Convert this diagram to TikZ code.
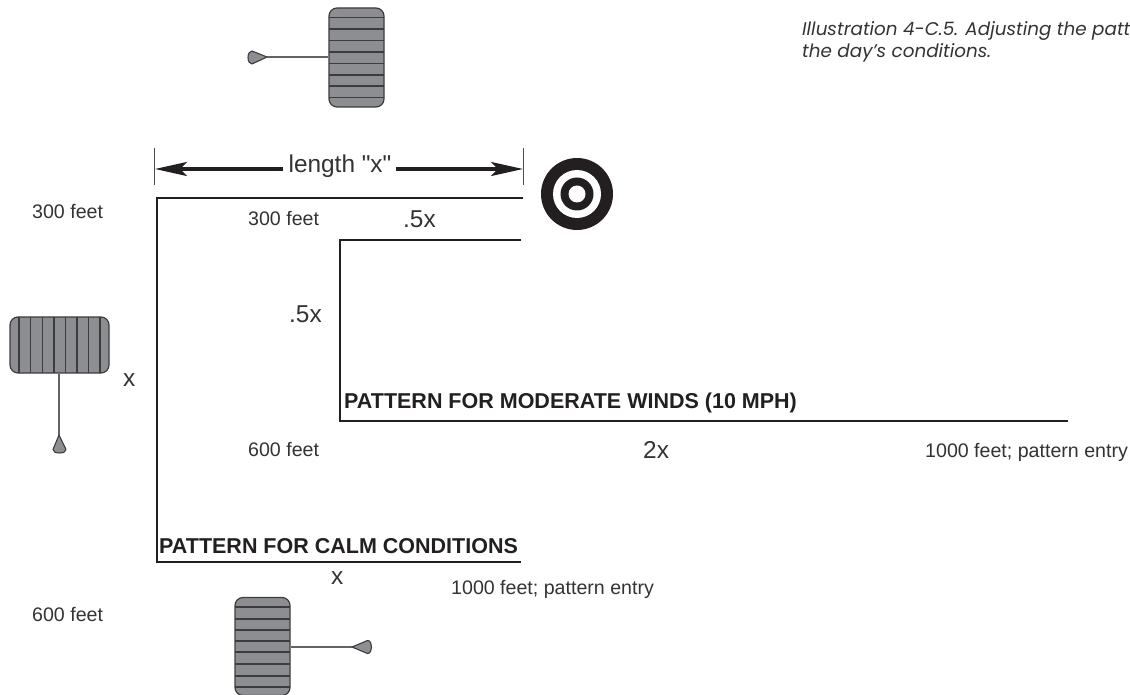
\documentclass[tikz,border=0pt]{standalone}
\usepackage{fontspec}
\setmainfont{Liberation Sans}
\newfontfamily\plainsans{Liberation Sans}
\newfontfamily\capfont{Poppins}
\usetikzlibrary{arrows.meta}
\definecolor{tirefill}{HTML}{8D8E91}
\definecolor{tireline}{HTML}{3C3C3E}
\definecolor{ink}{HTML}{231F20}
\definecolor{txt}{HTML}{333333}
\tikzset{
  tirebox/.style={draw=tireline,line width=1.2pt,fill=tirefill,rounded corners=8pt,inner sep=0pt},
  tread/.style={draw=tireline,line width=1.3pt},
  stemline/.style={draw=tireline!80,line width=1.5pt},
  headshape/.style={fill=tirefill,draw=tireline,line width=1.1pt,line join=round},
  pattern line/.style={draw=ink,line width=2pt},
  dimline/.style={draw=ink,line width=3.4pt,-{Stealth[length=32pt,width=14pt,inset=7pt]}},
  barline/.style={draw=ink!80,line width=1pt},
  small/.style={inner sep=0pt,text=txt,font=\fontsize{19.6}{23}\selectfont},
  big/.style={inner sep=0pt,text=txt,font=\plainsans\fontsize{24.4}{28}\selectfont},
  heading/.style={inner sep=0pt,text=ink,anchor=west,font=\fontsize{21.5}{26}\selectfont\bfseries},
  caption/.style={inner sep=0pt,text=txt,anchor=west,font=\capfont\itshape\fontsize{18.35}{22}\selectfont},
  ringnode/.style={circle,inner sep=0pt,draw=none},
}
\begin{document}
\begin{tikzpicture}[x=1pt,y=-1pt]
\useasboundingbox (0,0) rectangle (1130,695);
% top tyre
\node[tirebox,minimum width=55pt,minimum height=99pt] (t1) at (356.5,57.5) {};
\foreach \yy in {17.3,29,40.3,52,63.3,75,86,97.3} \draw[tread] (329,\yy) -- (384,\yy);
\coordinate (h1) at (267,57);
\draw[stemline] (t1.west |- h1) -- (h1);
\draw[headshape] (h1) -- (252,51) .. controls (249.5,51) and (248,54) .. (248,57.5) .. controls (248,61) and (249.5,64) .. (252,64) -- cycle;
% left tyre
\node[tirebox,minimum width=99pt,minimum height=56pt] (t2) at (59.5,345) {};
\foreach \xx in {19,30.7,42.3,54,65.7,77,88.3,100} \draw[tread] (\xx,317) -- (\xx,373);
\coordinate (h2) at (59,435);
\draw[stemline] (t2.south -| h2) -- (h2);
\draw[headshape] (h2) -- (53,449.5) .. controls (53,452) and (56,453) .. (59.5,453) .. controls (63,453) and (66,452) .. (66,449.5) -- cycle;
% bottom tyre
\node[tirebox,minimum width=55pt,minimum height=98pt] (t3) at (262.5,646.5) {};
\foreach \yy in {607,619,630,641,652,664,676,687} \draw[tread] (235,\yy) -- (290,\yy);
\coordinate (h3) at (352,647);
\draw[stemline] (t3.east |- h3) -- (h3);
\draw[headshape] (h3) -- (367.5,640.5) .. controls (370.5,640.5) and (371.5,644) .. (371.5,647) .. controls (371.5,650) and (370.5,653.5) .. (367.5,653.5) -- cycle;
% target
\node[ringnode,fill=ink,minimum size=72pt] (target) at (577,194) {};
\node[ringnode,fill=white,minimum size=48pt] (ring1) at (target) {};
\node[ringnode,fill=ink,minimum size=33pt] (ring2) at (target) {};
\node[ringnode,fill=white,minimum size=17pt] (ring3) at (target) {};
% dimension
\coordinate (b1t) at (154,148); \coordinate (b1b) at (154,185);
\coordinate (b2t) at (523.5,148); \coordinate (b2b) at (523.5,185);
\draw[barline] (b1t) -- (b1b);
\draw[barline] (b2t) -- (b2b);
\node[big] (len) at (340,166) {length "x"};
\coordinate (la) at (155,169); \coordinate (ra) at (523,169);
\coordinate (ls) at (283,169); \coordinate (rs) at (396,169);
\draw[dimline] (ls) -- (la);
\draw[dimline] (rs) -- (ra);
% patterns
\coordinate (c1) at (523,198); \coordinate (c2) at (156.5,198);
\coordinate (c3) at (156.5,562); \coordinate (c4) at (521,562);
\draw[pattern line] (c1) -- (c2) -- (c3) -- (c4);
\coordinate (m1) at (521,240); \coordinate (m2) at (339.5,240);
\coordinate (m3) at (339.5,421); \coordinate (m4) at (1068,421);
\draw[pattern line] (m1) -- (m2) -- (m3) -- (m4);
% labels
\node[heading] (calm) at (159,546.5) {PATTERN FOR CALM CONDITIONS};
\node[heading] (mod) at (344,403) {PATTERN FOR MODERATE WINDS (10 MPH)};
\node[small,anchor=west] (a) at (32,212) {300 feet};
\node[small,anchor=west] (b) at (248,219) {300 feet};
\node[small,anchor=west] (c) at (248,450) {600 feet};
\node[small,anchor=west] (d) at (32,614) {600 feet};
\node[small,anchor=west] (e) at (925,452) {1000 feet; pattern entry};
\node[small,anchor=west] (f) at (451,589) {1000 feet; pattern entry};
\node[big,anchor=west] (g) at (403,219) {.5x};
\node[big,anchor=west] (h) at (289,314) {.5x};
\node[big,anchor=west] (i) at (123,380) {x};
\node[big,anchor=west] (j) at (643,450) {2x};
\node[big,anchor=west] (k) at (331,578) {x};
\node[caption] (cap1) at (802,31) {Illustration 4-C.5. Adjusting the patt};
\node[caption] (cap2) at (802,53) {the day’s conditions.};
\end{tikzpicture}
\end{document}
